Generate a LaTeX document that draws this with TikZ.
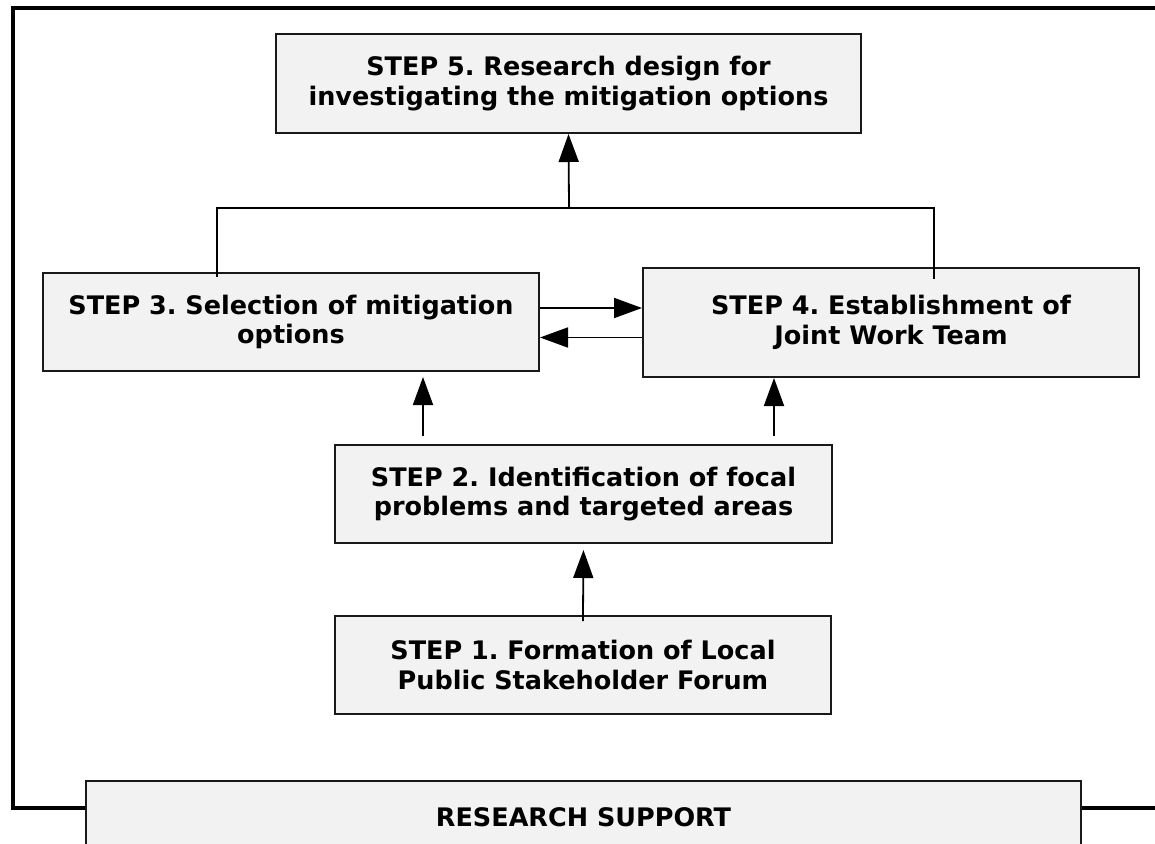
\documentclass[tikz,border=0pt]{standalone}
\usepackage{fontspec}
\setmainfont{DejaVu Sans}
\usetikzlibrary{arrows.meta}
\definecolor{boxfill}{RGB}{242,242,242}
\frenchspacing
\begin{document}
\begin{tikzpicture}[x=1pt,y=-1pt,
  boxbase/.style={draw=black!90, line width=2pt, fill=boxfill, inner sep=0pt,
    font=\fontsize{25.5}{29.5}\selectfont\bfseries},
  stepbox/.style={boxbase, align=center},
  link/.style={line width=1.8pt},
  arr/.style={link, -{Triangle[length=28pt,width=20pt]}},
]
\useasboundingbox (0,0) rectangle (1155,843);
\clip (0,0) rectangle (1155,843);

% outer frame
\draw[line width=4pt] (13,8) rectangle (1175,808);

% steps
\node[stepbox, minimum width=585pt, minimum height=99pt] (s5) at (568.5,83.5)
  {STEP 5. Research design for\\investigating the mitigation options};
\node[stepbox, minimum width=496pt, minimum height=98pt] (s3) at (291,322)
  {STEP 3. Selection of mitigation\\options};
\node[stepbox, minimum width=496pt, minimum height=109pt] (s4) at (891,322.5)
  {STEP 4. Establishment of\\Joint Work Team};
\node[stepbox, minimum width=497pt, minimum height=98pt] (s2) at (583.5,494)
  {STEP 2. Identification of focal\\problems and targeted areas};
\node[stepbox, minimum width=496pt, minimum height=98pt] (s1) at (583,665)
  {STEP 1. Formation of Local\\Public Stakeholder Forum};
\node[boxbase, anchor=north, minimum width=995pt, text height=45pt, text depth=60pt]
  (rs) at (583.5,780) {RESEARCH SUPPORT};

% helper coordinates for the connectors
\coordinate (l3) at (217,277);
\coordinate (jr) at (934,208);
\coordinate (l4) at (934,279);
\coordinate (j5) at (569,208);
\coordinate (x3) at (423,0);
\coordinate (x4) at (774,0);

% joint line from steps 3 and 4 up to step 5
\draw[link] (l3) |- (jr) -- (l4);
\draw[arr] (j5) -- (s5.south);

% exchange between steps 3 and 4
\draw[arr] ([yshift=14pt]s3.east) -- ([yshift=14pt]s3.east -| s4.west);
\draw[arr] ([yshift=-15pt]s4.west) -- ([yshift=-15pt]s4.west -| s3.east);

% step 2 feeds steps 3 and 4
\draw[arr, shorten <=8pt, shorten >=5pt] (s2.north -| x3) -- (s3.south -| x3);
\draw[arr, shorten <=8pt] (s2.north -| x4) -- (s4.south -| x4);

% step 1 feeds step 2
\draw[arr, shorten <=-6pt, shorten >=6pt] (s1.north) -- (s2.south);
\end{tikzpicture}
\end{document}
